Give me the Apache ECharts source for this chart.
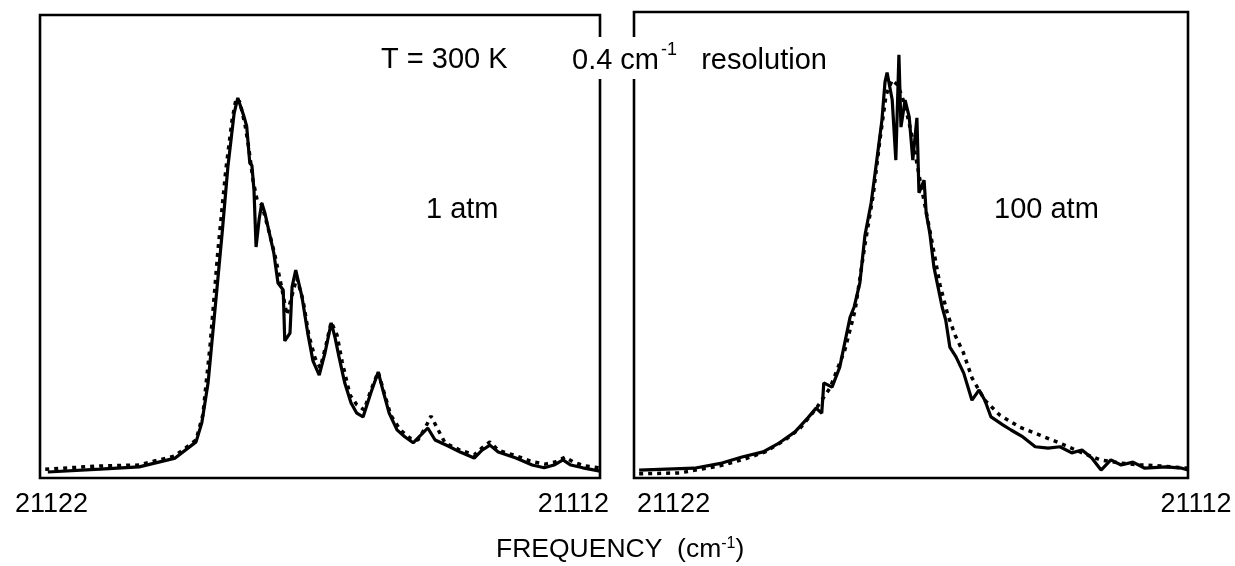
<!DOCTYPE html>
<html>
<head>
<meta charset="utf-8">
<script src="https://cdn.jsdelivr.net/npm/echarts@6/dist/echarts.min.js"></script>
<style>
html,body{margin:0;padding:0;background:#fff;}
#chart{width:1235px;height:566px;}
</style>
</head>
<body>
<div id="chart"></div>
<script>
// ---------- DATA (frequency in cm-1, intensity normalised) ----------
var tickLabels = [21122, 21112];

// Left panel: 1 atm
var leftSolidFreq = [21122.07,21121.07,21120.32,21119.63,21119.23,21119.12,21119.00,21118.85,21118.73,21118.62,21118.50,21118.43,21118.31,21118.26,21118.20,21118.16,21118.12,21118.08,21118.02,21117.97,21117.91,21117.74,21117.66,21117.56,21117.53,21117.43,21117.39,21117.32,21117.20,21117.09,21116.99,21116.87,21116.76,21116.64,21116.57,21116.49,21116.38,21116.26,21116.15,21116.03,21115.88,21115.74,21115.65,21115.53,21115.38,21115.23,21115.07,21114.92,21114.79,21114.65,21114.40,21114.17,21113.90,21113.75,21113.60,21113.44,21113.10,21112.79,21112.56,21112.37,21112.20,21112.05,21111.82,21111.49];
var leftSolidInt  = [0.013,0.019,0.024,0.043,0.078,0.119,0.205,0.384,0.529,0.672,0.788,0.821,0.780,0.760,0.680,0.675,0.622,0.499,0.560,0.594,0.572,0.486,0.421,0.406,0.296,0.313,0.413,0.449,0.391,0.313,0.253,0.222,0.270,0.335,0.305,0.261,0.205,0.162,0.140,0.132,0.184,0.229,0.190,0.140,0.104,0.089,0.076,0.093,0.108,0.082,0.069,0.056,0.043,0.060,0.071,0.056,0.043,0.028,0.022,0.028,0.039,0.028,0.022,0.015];

var leftDashFreq = [21122.12,21121.07,21120.32,21119.63,21119.23,21119.10,21118.96,21118.81,21118.66,21118.54,21118.46,21118.39,21118.29,21118.22,21118.14,21118.06,21117.97,21117.85,21117.72,21117.58,21117.49,21117.39,21117.30,21117.18,21117.07,21116.95,21116.85,21116.74,21116.64,21116.53,21116.43,21116.28,21116.15,21116.01,21115.88,21115.74,21115.63,21115.50,21115.32,21115.13,21114.98,21114.84,21114.73,21114.61,21114.46,21114.17,21113.90,21113.75,21113.60,21113.44,21113.10,21112.79,21112.54,21112.33,21112.16,21112.01,21111.78,21111.49];
var leftDashInt  = [0.019,0.026,0.028,0.048,0.082,0.136,0.287,0.492,0.665,0.773,0.821,0.812,0.762,0.713,0.644,0.600,0.590,0.540,0.482,0.406,0.352,0.395,0.432,0.384,0.309,0.259,0.238,0.287,0.337,0.309,0.251,0.179,0.158,0.147,0.190,0.229,0.186,0.136,0.104,0.086,0.082,0.108,0.134,0.108,0.076,0.060,0.050,0.065,0.078,0.060,0.048,0.035,0.030,0.035,0.045,0.035,0.026,0.022];

// Right panel: 100 atm
var rightSolidFreq = [21122.67,21121.60,21121.06,21120.67,21120.26,21119.95,21119.64,21119.39,21119.23,21119.12,21119.08,21118.92,21118.77,21118.69,21118.57,21118.49,21118.38,21118.28,21118.16,21118.05,21117.95,21117.89,21117.85,21117.75,21117.68,21117.62,21117.58,21117.50,21117.42,21117.35,21117.27,21117.23,21117.13,21117.09,21117.02,21116.94,21116.86,21116.78,21116.71,21116.63,21116.51,21116.36,21116.20,21116.06,21115.95,21115.83,21115.60,21115.44,21115.21,21114.97,21114.72,21114.49,21114.26,21114.06,21113.87,21113.69,21113.50,21113.30,21113.07,21112.84,21112.43,21112.12,21112.00];
var rightSolidInt  = [0.017,0.021,0.032,0.045,0.056,0.075,0.099,0.129,0.150,0.139,0.204,0.195,0.238,0.281,0.345,0.367,0.418,0.521,0.590,0.682,0.768,0.850,0.870,0.811,0.682,0.908,0.753,0.811,0.775,0.682,0.773,0.612,0.639,0.569,0.526,0.453,0.410,0.367,0.339,0.281,0.260,0.225,0.167,0.189,0.167,0.131,0.114,0.103,0.088,0.067,0.064,0.067,0.054,0.060,0.043,0.017,0.039,0.028,0.034,0.021,0.024,0.021,0.017];

var rightDashFreq = [21122.67,21121.88,21121.10,21120.61,21120.22,21119.83,21119.54,21119.25,21118.96,21118.67,21118.47,21118.28,21118.12,21117.99,21117.87,21117.75,21117.64,21117.50,21117.37,21117.21,21117.02,21116.82,21116.67,21116.53,21116.37,21116.20,21115.95,21115.66,21115.27,21114.88,21114.49,21114.10,21113.71,21113.32,21112.93,21112.54,21112.00];
var rightDashInt  = [0.009,0.011,0.026,0.041,0.056,0.082,0.107,0.146,0.193,0.275,0.361,0.501,0.607,0.725,0.822,0.854,0.843,0.800,0.736,0.639,0.532,0.414,0.350,0.307,0.270,0.215,0.167,0.135,0.109,0.092,0.075,0.056,0.039,0.032,0.028,0.026,0.021];

function zip(a, b) { return a.map(function (v, i) { return [v, b[i]]; }); }

var FONT = '"Liberation Sans", Arial, Helvetica, sans-serif';

var chart = echarts.init(document.getElementById('chart'), null, {renderer: 'canvas'});

function xAxisFor(gridIndex, min, max) {
  return {
    type: 'value', gridIndex: gridIndex, inverse: true, min: min, max: max,
    axisLine: {show: false}, axisTick: {show: false}, splitLine: {show: false},
    axisLabel: {
      customValues: tickLabels, margin: 13, color: '#000',
      fontFamily: FONT, fontSize: 27,
      formatter: function (v) { return (gridIndex === 1 && v === 21112) ? '{s|' + v + '}' : '{n|' + v + '}'; },
      rich: {
        n: {fontFamily: FONT, fontSize: 27, color: '#000'},
        s: {fontFamily: FONT, fontSize: 27, color: '#000', padding: [0, 0, 0, 16]}
      }
    }
  };
}
function yAxisFor(gridIndex) {
  return {type: 'value', gridIndex: gridIndex, min: 0, max: 1, show: false};
}
function lineSeries(idx, data, dashed) {
  return {
    type: 'line', xAxisIndex: idx, yAxisIndex: idx, data: data,
    showSymbol: false, symbol: 'none', smooth: false, animation: false,
    lineStyle: dashed ? {color: '#000', width: 3.5, type: [4, 5]} : {color: '#000', width: 3.2},
    z: dashed ? 2 : 3
  };
}

chart.setOption({
  animation: false,
  backgroundColor: '#fff',
  grid: [
    {left: 40, width: 560, top: 15, bottom: 88, show: true, borderColor: '#000', borderWidth: 2.6, backgroundColor: 'transparent'},
    {left: 634, width: 554, top: 12, bottom: 88, show: true, borderColor: '#000', borderWidth: 2.6, backgroundColor: 'transparent'}
  ],
  xAxis: [xAxisFor(0, 21111.49, 21122.22), xAxisFor(1, 21112.00, 21122.77)],
  yAxis: [yAxisFor(0), yAxisFor(1)],
  series: [
    lineSeries(0, zip(leftDashFreq, leftDashInt), true),
    lineSeries(0, zip(leftSolidFreq, leftSolidInt), false),
    lineSeries(1, zip(rightDashFreq, rightDashInt), true),
    lineSeries(1, zip(rightSolidFreq, rightSolidInt), false)
  ],
  graphic: [
    {type: 'text', z: 100, left: 381, top: 45,
      style: {text: 'T = 300 K', font: '29px ' + FONT, fill: '#000'}},
    {type: 'text', z: 100, left: 570, top: 37,
      style: {
        text: '{a|0.4 cm}{b|-1}{a|   resolution}',
        fill: '#000', backgroundColor: '#fff', padding: [4, 2, 4, 2],
        rich: {
          a: {font: '29px ' + FONT, fill: '#000', lineHeight: 34, verticalAlign: 'bottom'},
          b: {font: '18px ' + FONT, fill: '#000', lineHeight: 34, verticalAlign: 'top', padding: [0, 0, 14, 2]}
        }
      }},
    {type: 'text', z: 100, left: 426, top: 195,
      style: {text: '1 atm', font: '29px ' + FONT, fill: '#000'}},
    {type: 'text', z: 100, left: 994, top: 195,
      style: {text: '100 atm', font: '29px ' + FONT, fill: '#000'}},
    {type: 'text', z: 100, left: 496, top: 536,
      style: {
        text: '{a|FREQUENCY  (cm}{b|-1}{a|)}',
        fill: '#000',
        rich: {
          a: {font: '26.5px ' + FONT, fill: '#000', lineHeight: 30},
          b: {font: '16px ' + FONT, fill: '#000', lineHeight: 30, padding: [0, 0, 12, 0]}
        }
      }}
  ]
});
</script>
</body>
</html>
